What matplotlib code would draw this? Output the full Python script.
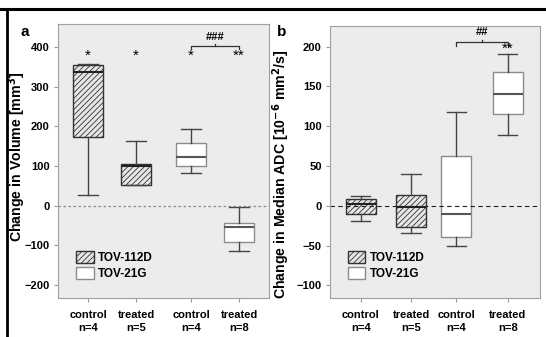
import matplotlib
matplotlib.use("Agg")
import matplotlib.pyplot as plt
from matplotlib.patches import Patch
from matplotlib.lines import Line2D

plt.rcParams["font.family"] = ["Liberation Sans", "DejaVu Sans"]
plt.rcParams["font.weight"] = "bold"
plt.rcParams["hatch.linewidth"] = 0.6
plt.rcParams["hatch.color"] = "#333333"

GROUPS = ["control\nn=4", "treated\nn=5", "control\nn=4", "treated\nn=8"]
LINES = ["TOV-112D", "TOV-112D", "TOV-21G", "TOV-21G"]
STAT_KEYS = ["whislo", "q1", "med", "q3", "whishi"]

# change in volume [mm3]: whislo, q1, med, q3, whishi
VOL = [
    [28, 173, 336, 355, 358],
    [53, 53, 101, 106, 164],
    [81, 99, 123, 159, 192],
    [-115, -92, -53, -44, -4],
]
VOL_STARS = ["*", "*", "*", "**"]

# change in median ADC [1e-6 mm2/s]
ADC = [
    [-19, -10, 2, 9, 12],
    [-34, -27, -1, 13, 40],
    [-51, -39, -11, 62, 118],
    [89, 115, 141, 168, 191],
]
ADC_STARS = ["", "", "", "**"]

W, H = 546, 337
fig = plt.figure(figsize=(W / 100, H / 100), dpi=100)


def px_axes(l, t, r, b):
    return fig.add_axes([l / W, 1 - b / H, (r - l) / W, (b - t) / H])


def panel(ax, data, pos, stars, star_y, ylim, yticks, ylabel, zero_style,
          br_y, br_text, br_tick, letter):
    ax.set_facecolor("#ececec")
    stats = [dict(zip(STAT_KEYS, d)) for d in data]
    bp = ax.bxp(stats, positions=pos, widths=0.62, showfliers=False,
                patch_artist=True, manage_ticks=False)
    for i, box in enumerate(bp["boxes"]):
        if LINES[i] == "TOV-112D":
            box.set_facecolor("#e6e6e6")
            box.set_hatch("//////")
            box.set_edgecolor("#333333")
            bp["medians"][i].set_color("#222222")
        else:
            box.set_facecolor("white")
            box.set_edgecolor("#8c8c8c")
            bp["medians"][i].set_color("#555555")
        box.set_linewidth(1.0)
        bp["medians"][i].set_linewidth(1.5)
    for ln in bp["whiskers"] + bp["caps"]:
        ln.set_color("#444444")
        ln.set_linewidth(1.0)
    for cap in bp["caps"]:
        x0, x1 = cap.get_xdata()
        c = (x0 + x1) / 2
        cap.set_xdata([c - 0.2, c + 0.2])
    ax.axhline(0, **zero_style)
    for p, s in zip(pos, stars):
        if s:
            ax.text(p, star_y, s, ha="center", va="center", fontsize=11,
                    fontweight="normal")
    x0, x1 = pos[2], pos[3]
    ax.plot([x0, x0, x1, x1], [br_y - br_tick, br_y, br_y, br_y - br_tick],
            color="#333333", lw=0.9)
    ax.plot([(x0 + x1) / 2] * 2, [br_y, br_y + br_tick * 0.6],
            color="#333333", lw=0.9)
    ax.text((x0 + x1) / 2, br_y + br_tick * 1.3, br_text, ha="center",
            va="bottom", fontsize=8)
    ax.set_ylim(*ylim)
    ax.set_yticks(yticks)
    ax.set_xticks(pos)
    ax.set_xticklabels(GROUPS, fontsize=8, linespacing=1.3)
    ax.tick_params(axis="y", labelsize=8, length=3, color="#999999", pad=3)
    ax.tick_params(axis="x", length=3, color="#999999", pad=6)
    for sp in ax.spines.values():
        sp.set_color("#a0a0a0")
        sp.set_linewidth(0.8)
    ax.set_ylabel(ylabel, fontsize=10.2, fontweight="bold")
    handles = [Patch(facecolor="#e6e6e6", edgecolor="#333333", hatch="//////",
                     label="TOV-112D"),
               Patch(facecolor="white", edgecolor="#8c8c8c", label="TOV-21G")]
    ax.legend(handles=handles, loc="lower left", bbox_to_anchor=(0.065, 0.05),
              frameon=False, fontsize=8.5, handlelength=1.45, handleheight=1.2,
              handletextpad=0.35, labelspacing=0.25, borderaxespad=0)
    fig.text(letter[0] / W, 1 - letter[1] / H, letter[2], fontsize=11,
             fontweight="bold", ha="center", va="center")


ax1 = px_axes(58, 24, 269, 298)
panel(ax1, VOL, [1, 2, 3.146, 4.146], VOL_STARS, 379, (-233, 458),
      [-200, -100, 0, 100, 200, 300, 400], "Change in Volume [mm$^\\mathbf{3}$]",
      dict(color="#888888", ls=(0, (2, 2)), lw=0.9), 403, "###", 8,
      (25, 32, "a"))
ax1.set_xlim(0.375, 4.77)
ax1.yaxis.set_label_coords(-0.14, 0.515)

ax2 = px_axes(330, 26, 540, 298)
panel(ax2, ADC, [1, 2.05, 2.99, 4.07], ADC_STARS, 197, (-116, 226),
      [-100, -50, 0, 50, 100, 150, 200],
      "Change in Median ADC [10$^\\mathbf{-6}$ mm$^\\mathbf{2}$/s]",
      dict(color="#222222", ls=(0, (4, 3)), lw=0.8), 206, "##", 5,
      (282, 32, "b"))
ax2.set_xlim(0.36, 4.74)
ax2.yaxis.set_label_coords(-0.18, 0.456)

fig.add_artist(Line2D([0, 1], [1 - 8.5 / H] * 2, color="black", lw=2.2))
fig.add_artist(Line2D([6.5 / W] * 2, [0, 1 - 8.5 / H], color="black", lw=2.0))

fig.savefig("out.png", dpi=100)
